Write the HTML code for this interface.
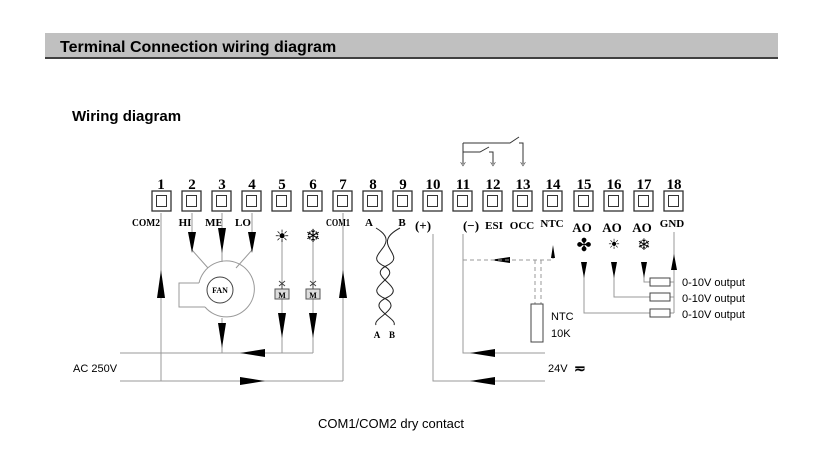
<!DOCTYPE html>
<html><head><meta charset="utf-8"><style>
html,body{margin:0;padding:0;background:#fff;width:819px;height:459px;overflow:hidden}
svg text{font-family:"Liberation Sans",sans-serif}
svg .n text{font-family:"Liberation Serif",serif;font-weight:bold;font-size:15px}
svg .l text{font-family:"Liberation Serif",serif;font-weight:bold;font-size:11px}
svg text.s{font-family:"Liberation Serif",serif;font-weight:bold}
</style></head><body>
<svg width="819" height="459" viewBox="0 0 819 459" xmlns="http://www.w3.org/2000/svg">
<defs>
<marker id="h" viewBox="0 0 10 10" refX="5" refY="5" markerWidth="6" markerHeight="6" orient="auto"><path d="M2,1 L8,5 L2,9" fill="none" stroke="#555" stroke-width="1.2"/></marker>
</defs>
<rect x="45" y="33" width="733" height="24" fill="#c0c0c0"/>
<line x1="45" y1="58" x2="778" y2="58" stroke="#000" stroke-width="1.5"/>
<text x="60" y="52" font-size="16" font-weight="bold">Terminal Connection wiring diagram</text>
<text x="72" y="121" font-size="15" font-weight="bold">Wiring diagram</text>

<g fill="#fff" stroke="#333" stroke-width="1.3">
<rect x="152" y="191" width="19" height="20"/><rect x="182" y="191" width="19" height="20"/><rect x="212" y="191" width="19" height="20"/><rect x="242" y="191" width="19" height="20"/><rect x="272" y="191" width="19" height="20"/><rect x="303" y="191" width="19" height="20"/><rect x="333" y="191" width="19" height="20"/><rect x="363" y="191" width="19" height="20"/><rect x="393" y="191" width="19" height="20"/><rect x="423" y="191" width="19" height="20"/><rect x="453" y="191" width="19" height="20"/><rect x="483" y="191" width="19" height="20"/><rect x="513" y="191" width="19" height="20"/><rect x="543" y="191" width="19" height="20"/><rect x="574" y="191" width="19" height="20"/><rect x="604" y="191" width="19" height="20"/><rect x="634" y="191" width="19" height="20"/><rect x="664" y="191" width="19" height="20"/>
</g>
<g fill="none" stroke="#333" stroke-width="1">
<rect x="156.5" y="195.5" width="10" height="11"/><rect x="186.5" y="195.5" width="10" height="11"/><rect x="216.5" y="195.5" width="10" height="11"/><rect x="246.5" y="195.5" width="10" height="11"/><rect x="276.5" y="195.5" width="10" height="11"/><rect x="307.5" y="195.5" width="10" height="11"/><rect x="337.5" y="195.5" width="10" height="11"/><rect x="367.5" y="195.5" width="10" height="11"/><rect x="397.5" y="195.5" width="10" height="11"/><rect x="427.5" y="195.5" width="10" height="11"/><rect x="457.5" y="195.5" width="10" height="11"/><rect x="487.5" y="195.5" width="10" height="11"/><rect x="517.5" y="195.5" width="10" height="11"/><rect x="547.5" y="195.5" width="10" height="11"/><rect x="578.5" y="195.5" width="10" height="11"/><rect x="608.5" y="195.5" width="10" height="11"/><rect x="638.5" y="195.5" width="10" height="11"/><rect x="668.5" y="195.5" width="10" height="11"/>
</g>
<g class="n" text-anchor="middle">
<text x="161" y="189">1</text><text x="192" y="189">2</text><text x="222" y="189">3</text><text x="252" y="189">4</text><text x="282" y="189">5</text><text x="313" y="189">6</text><text x="343" y="189">7</text><text x="373" y="189">8</text><text x="403" y="189">9</text><text x="433" y="189">10</text><text x="463" y="189">11</text><text x="493" y="189">12</text><text x="523" y="189">13</text><text x="553" y="189">14</text><text x="584" y="189">15</text><text x="614" y="189">16</text><text x="644" y="189">17</text><text x="674" y="189">18</text>
</g>
<g class="l" text-anchor="middle">
<text x="146" y="226" textLength="28" lengthAdjust="spacingAndGlyphs">COM2</text><text x="185" y="226">HI</text><text x="214" y="226">ME</text><text x="243" y="226">LO</text><text x="338" y="226" textLength="24" lengthAdjust="spacingAndGlyphs">COM1</text><text x="369" y="226">A</text><text x="402" y="226">B</text><text x="423" y="230" style="font-size:13px">(+)</text><text x="471" y="230" style="font-size:13px">(−)</text><text x="494" y="229">ESI</text><text x="522" y="229">OCC</text><text x="552" y="227">NTC</text><text x="582" y="232" style="font-size:13px">AO</text><text x="612" y="232" style="font-size:13px">AO</text><text x="642" y="232" style="font-size:13px">AO</text><text x="672" y="227">GND</text>
</g>

<g stroke="#999" stroke-width="1" fill="none">
<path d="M120,353 H313"/><path d="M120,381 H343"/>
<path d="M161,213 V381"/><path d="M343,213 V381"/>
<path d="M192,213 V250 L208,268"/><path d="M222,213 V262"/><path d="M252,213 V250 L236,268"/>
<path d="M222,318 V353"/>
<path d="M282,240 V353"/><path d="M313,240 V353"/>
<path d="M199,283 H179 V307 H205"/>
<path d="M199,283 A28,28 0 1 1 205,307"/>
<path d="M433,234 V381 H545"/><path d="M463,234 V353 H545"/>
<path d="M584,262 V313 H650"/><path d="M614,262 V297 H650"/><path d="M644,262 V282 H650"/>
<path d="M670,282 H674 M670,297 H674 M670,313 H674"/><path d="M674,232 V313"/>
</g>
<circle cx="220" cy="290" r="13" fill="none" stroke="#444"/>
<text x="220" y="293" font-size="8" text-anchor="middle" class="s">FAN</text>
<g fill="#000">
<path d="M157,298 L161,270 L165,298Z"/><path d="M339,298 L343,270 L347,298Z"/>
<path d="M188,232 L192,253 L196,232Z"/><path d="M218,228 L222,253 L226,228Z"/><path d="M248,232 L252,253 L256,232Z"/>
<path d="M218,323 L222,348 L226,323Z"/>
<path d="M278,313 L282,338 L286,313Z"/><path d="M309,313 L313,338 L317,313Z"/>
<path d="M265,349 L240,353 L265,357Z"/><path d="M240,377 L265,381 L240,385Z"/>
<path d="M495,349 L470,353 L495,357Z"/><path d="M495,377 L470,381 L495,385Z"/>
<path d="M510,257 L490,260 L510,263Z"/>
<path d="M551,258 L553,245 L555,258Z"/>
<path d="M581,262 L584,278 L587,262Z"/><path d="M611,262 L614,278 L617,262Z"/><path d="M641,262 L644,278 L647,262Z"/>
<path d="M671,270 L674,254 L677,270Z"/>
</g>
<g stroke="#555" fill="#ddd" stroke-width="1">
<rect x="275" y="289" width="14" height="10"/><rect x="306" y="289" width="14" height="10"/>
</g>
<g font-size="8" text-anchor="middle"><text x="282" y="298" class="s">M</text><text x="313" y="298" class="s">M</text></g>
<g stroke="#444" stroke-width="1" fill="none"><path d="M279,281 L285,286 M285,281 L279,286 M282,284 V289"/><path d="M310,281 L316,286 M316,281 L310,286 M313,284 V289"/></g>
<g text-anchor="middle" fill="#000">
<text x="282" y="242" font-size="17">☀</text>
<text x="313" y="242" font-size="18">❄</text>
<text x="584" y="251" font-size="18">✤</text>
<text x="614" y="249" font-size="14">☀</text>
<text x="644" y="250" font-size="16">❄</text>
</g>
<g stroke="#222" stroke-width="1" fill="none">
<path d="M376,228 C405,245 360,255 384,266 C405,277 360,287 384,298 C405,308 372,318 376,325"/>
<path d="M400,228 C368,245 410,255 386,266 C365,277 410,287 386,298 C365,308 398,318 394,325"/>
</g>
<text x="377" y="338" font-size="9" text-anchor="middle" class="s">A</text>
<text x="392" y="338" font-size="9" text-anchor="middle" class="s">B</text>
<g stroke="#999" stroke-dasharray="4,3" fill="none"><path d="M463,260 H553 V258"/><path d="M535,260 V305 M541,260 V305"/></g>
<rect x="531" y="304" width="12" height="38" fill="#fff" stroke="#444"/>
<text x="551" y="320" font-size="11">NTC</text><text x="551" y="337" font-size="11">10K</text>
<text x="548" y="372" font-size="11">24V</text>
<text x="574" y="373" font-size="14" font-weight="bold">≂</text>
<text x="73" y="372" font-size="11">AC 250V</text>
<g fill="#fff" stroke="#444"><rect x="650" y="278" width="20" height="8"/><rect x="650" y="293" width="20" height="8"/><rect x="650" y="309" width="20" height="8"/></g>
<g font-size="11"><text x="682" y="286">0-10V output</text><text x="682" y="302">0-10V output</text><text x="682" y="318">0-10V output</text></g>
<g stroke="#333" fill="none" stroke-width="1">
<path d="M463,143 V164" marker-end="url(#h)"/>
<path d="M463,143 H510 L519,137 M519,143 H523 V164" marker-end="url(#h)"/>
<path d="M463,152 H480 L489,147 M489,152 H493 V164" marker-end="url(#h)"/>
</g>
<text x="318" y="428" font-size="13">COM1/COM2 dry contact</text>
</svg>
</body></html>
